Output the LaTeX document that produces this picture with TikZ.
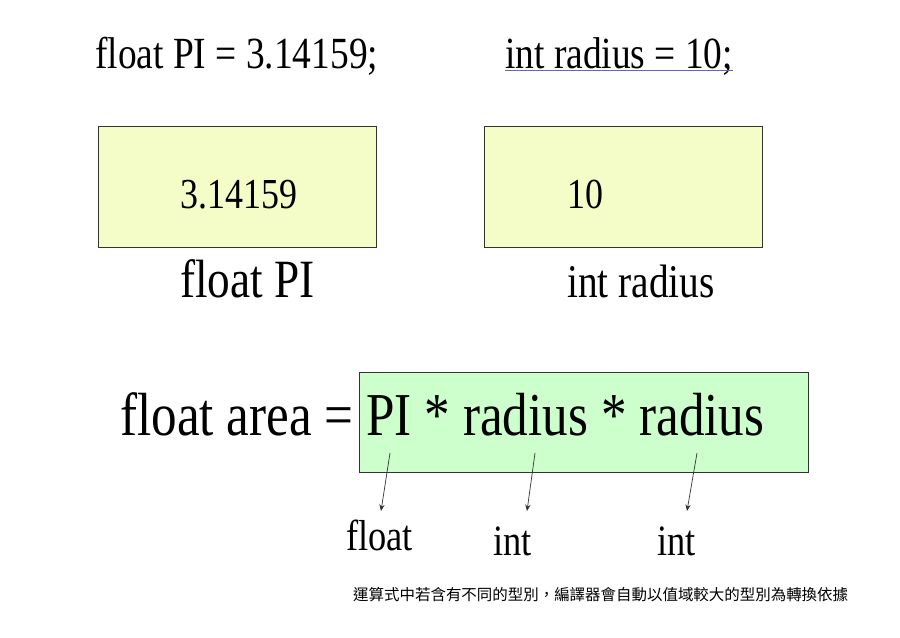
\documentclass[tikz,border=0pt]{standalone}
\usepackage{xcolor}
\usepackage{fontspec}
\setmainfont[FakeStretch=0.84]{Liberation Serif}
\newfontfamily\cjk{Noto Sans CJK TC}
\usetikzlibrary{arrows.meta}
\definecolor{valyellow}{RGB}{244,252,200}
\definecolor{exprgreen}{RGB}{204,255,204}
\definecolor{linkblue}{RGB}{100,100,190}
\tikzset{
	varbox/.style={draw=black!80,fill=valyellow,inner sep=0,anchor=north west,minimum width=8.34cm,minimum height=3.63cm},
	code/.style={anchor=base west,inner sep=0,font=\fontsize{38}{40}\selectfont},
	typeline/.style={-{Stealth[length=5.5pt,width=4.5pt]},black!80,line width=0.6pt}
}
\begin{document}
\begin{tikzpicture}[x=0.03cm,y=-0.03cm]
				\useasboundingbox (0,0) rectangle (900,637);
				\node [code] (decpi) at (95,68) {float PI = 3.14159;};
				\node [code] (decrad) at (505,68) {int radius = 10;};
				\draw [linkblue,line width=0.6pt] ([yshift=-1.7pt]decrad.base west) -- ([yshift=-1.7pt]decrad.base east);
				\node [varbox] (boxpi) at (98,126) {};
				\node [varbox] (boxrad) at (484,126) {};
				\node [code,font=\fontsize{36.5}{40}\selectfont] (valpi) at (180,208) {3.14159};
				\node [code,font=\fontsize{36.5}{40}\selectfont] (valrad) at (567,208) {10};
				\node [code,font=\fontsize{46}{50}\selectfont] (namepi) at (180,297) {float PI};
				\node [code,font=\fontsize{40}{44}\selectfont] (namerad) at (567,297) {int radius};
				\node [draw=black!80,fill=exprgreen,inner sep=0,anchor=north west,minimum width=13.47cm,minimum height=3cm] (expr) at (359,372) {};
				\node [code,font=\fontsize{52}{56}\selectfont] (area) at (120,435) {float area = PI * radius * radius};
				\coordinate (fromPI) at (390,453);
				\coordinate (fromR1) at (535,453);
				\coordinate (fromR2) at (697,453);
				\coordinate (toPI) at (381,511);
				\coordinate (toR1) at (527,511);
				\coordinate (toR2) at (687,511);
				\draw [typeline] (fromPI) -- (toPI);
				\draw [typeline] (fromR1) -- (toR1);
				\draw [typeline] (fromR2) -- (toR2);
				\node [code,font=\fontsize{37}{40}\selectfont] (tfloat) at (346,550) {float};
				\node [code,font=\fontsize{37}{40}\selectfont] (tint1) at (493,555) {int};
				\node [code,font=\fontsize{37}{40}\selectfont] (tint2) at (657,555) {int};
				\node [anchor=west,inner sep=0,font=\cjk\fontsize{13.2}{15}\selectfont] (note) at (353,595) {運算式中若含有不同的型別，編譯器會自動以值域較大的型別為轉換依據};
			\end{tikzpicture}
\end{document}
